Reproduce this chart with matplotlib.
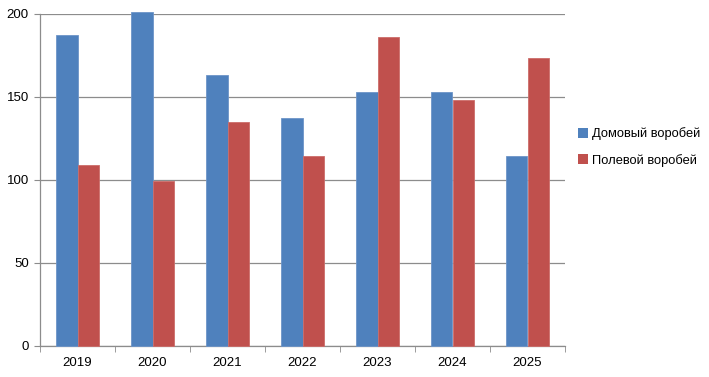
import matplotlib
matplotlib.use("Agg")
import matplotlib.pyplot as plt
import numpy as np
from matplotlib.patches import Patch

years = ["2019", "2020", "2021", "2022", "2023", "2024", "2025"]
house = [187, 201, 163, 137, 153, 153, 114]
field = [109, 99, 135, 114, 186, 148, 173]
series_names = ["Домовый воробей", "Полевой воробей"]
yticks = [0, 50, 100, 150, 200]

plt.rcParams['font.family'] = ['Liberation Sans', 'DejaVu Sans']

fig = plt.figure(figsize=(7.09, 3.77), dpi=100)
ax = fig.add_axes([40/709, 1-346/377, (565-40)/709, (346-13.5)/377])

x = np.arange(len(years))
w = 1/3.5
c1, c2 = "#4F81BD", "#C0504D"
b1 = ax.bar(x - w/2, house, w, color=c1, edgecolor="#6d95c8", linewidth=0.6, zorder=3)
b2 = ax.bar(x + w/2, field, w, color=c2, edgecolor="#cc6d6a", linewidth=0.6, zorder=3)
for p in list(b1) + list(b2):
    p.set_clip_on(False)

ax.set_xlim(-0.5, len(years) - 0.5)
ax.set_ylim(0, 200)
ax.set_yticks(yticks)
ax.set_yticklabels([str(v) for v in yticks], fontsize=9.5)
ax.yaxis.grid(True, color="#8c8c8c", linewidth=0.9, zorder=0)
ax.set_xticks(x)
ax.set_xticklabels(years, fontsize=9.5)
ax.tick_params(axis='x', length=0, pad=8)
ax.set_xticks(np.arange(-0.5, len(years)), minor=True)
ax.tick_params(axis='x', which='minor', length=4, color="#8c8c8c", direction='out')
ax.tick_params(axis='y', length=4, color="#8c8c8c", pad=4)
for s in ["top", "right"]:
    ax.spines[s].set_visible(False)
for s in ["left", "bottom"]:
    ax.spines[s].set_color("#8c8c8c")
    ax.spines[s].set_linewidth(0.9)

handles = [Patch(facecolor=c1), Patch(facecolor=c2)]
fig.legend(handles, series_names, loc="center left", bbox_to_anchor=(566/709, 1-147/377),
           frameon=False, fontsize=9.3, handlelength=0.8, handleheight=0.8,
           handletextpad=0.3, labelspacing=1.05)

fig.savefig("out.png", dpi=100)
